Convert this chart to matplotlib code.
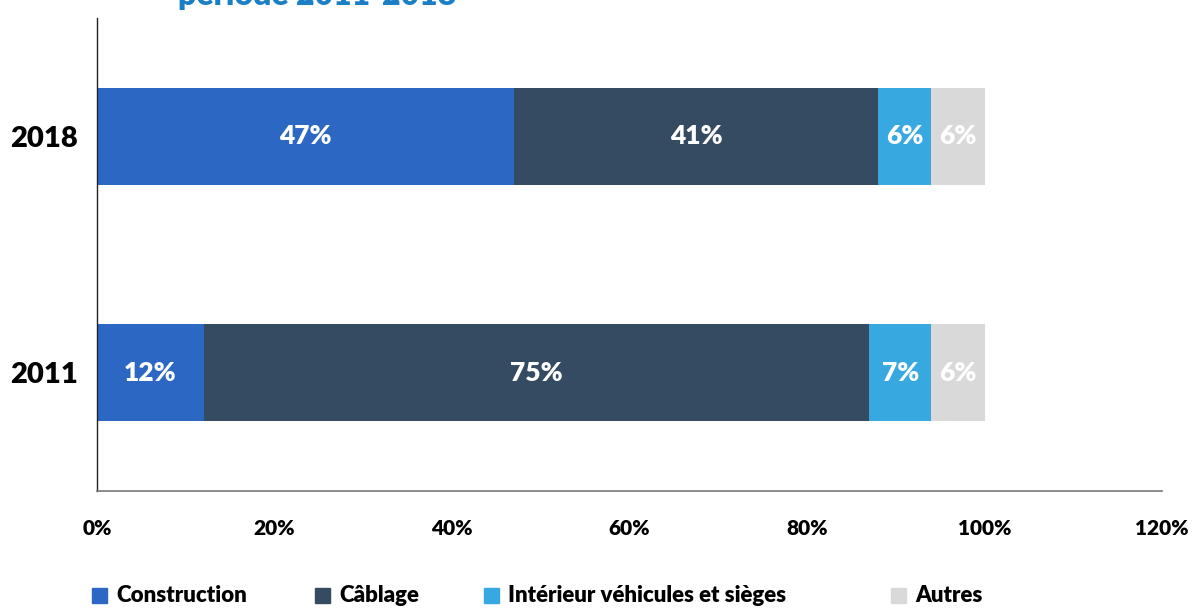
import matplotlib.pyplot as plt
from matplotlib.patches import Rectangle

years = ["2011", "2018"]
categories = ["Construction", "Câblage", "Intérieur véhicules et sièges", "Autres"]
values = {
    "Construction": [12, 47],
    "Câblage": [75, 41],
    "Intérieur véhicules et sièges": [7, 6],
    "Autres": [6, 6],
}
colors = ["#2b67c3", "#354b61", "#37a9e0", "#d9d9d9"]
xticks = [0, 20, 40, 60, 80, 100, 120]

plt.rcParams['font.family'] = ['Lato', 'DejaVu Sans']
W = "heavy"

fig = plt.figure(figsize=(11.92, 6.08), dpi=100)
ax = fig.add_axes([97 / 1192, 117 / 608, 1065 / 1192, 473 / 608])

left = [0, 0]
for cat, col in zip(categories, colors):
    vals = values[cat]
    ax.barh(range(len(years)), vals, left=left, height=0.41, color=col)
    for i, v in enumerate(vals):
        ax.text(left[i] + v / 2, i, f"{v}%", ha="center", va="center",
                color="white", fontsize=19, fontweight=W)
    left = [l + v for l, v in zip(left, vals)]

ax.set_xlim(0, 120)
ax.set_ylim(-0.5, 1.5)
ax.set_yticks(range(len(years)))
ax.set_yticklabels(years, fontsize=21, fontweight=W)
ax.set_xticks(xticks)
ax.set_xticklabels([f"{t}%" for t in xticks], fontsize=15, fontweight=W)
ax.tick_params(length=0)
ax.tick_params(axis="x", pad=20)
ax.tick_params(axis="y", pad=14)
for s in ["top", "right"]:
    ax.spines[s].set_visible(False)
ax.spines["left"].set_color("#222222")
ax.spines["left"].set_linewidth(1)
ax.spines["bottom"].set_color("#777777")
ax.spines["bottom"].set_linewidth(1.2)

# title, cut off at the top in the source
fig.text(178 / 1192, 1 - 5 / 608, "période 2011-2018", color="#1a7fc4",
         fontsize=23, fontweight=W, ha="left", va="baseline")

# legend
leg_x = [92, 315, 484, 891]
for x, cat, col in zip(leg_x, categories, colors):
    fig.patches.append(Rectangle((x / 1192, 5 / 608), 15 / 1192, 15 / 608,
                                 transform=fig.transFigure, color=col))
    fig.text((x + 24) / 1192, 12 / 608, cat, fontsize=16, fontweight=W,
             va="center", ha="left")

fig.savefig("out.png", dpi=100)
